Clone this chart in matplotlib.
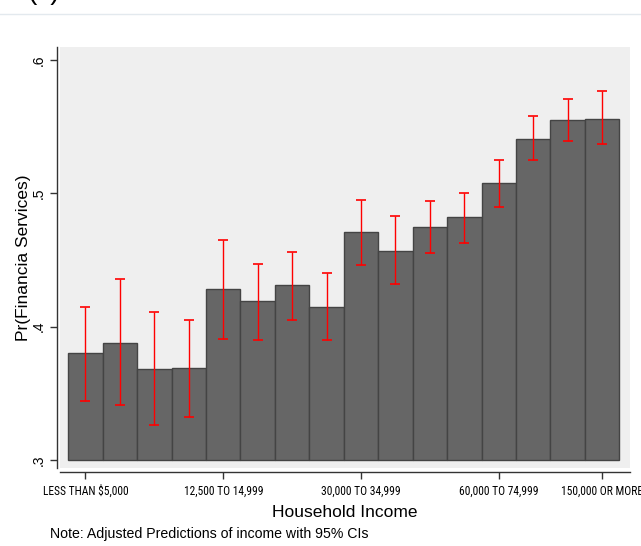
import numpy as np
import matplotlib
matplotlib.use("Agg")
import matplotlib.pyplot as plt
from matplotlib import font_manager

# Adjusted predictions by household income bracket, with 95% CIs
income_levels = [
    "LESS THAN $5,000", "5,000 TO 7,499", "7,500 TO 9,999", "10,000 TO 12,499",
    "12,500 TO 14,999", "15,000 TO 19,999", "20,000 TO 24,999", "25,000 TO 29,999",
    "30,000 TO 34,999", "35,000 TO 39,999", "40,000 TO 49,999", "50,000 TO 59,999",
    "60,000 TO 74,999", "75,000 TO 99,999", "100,000 TO 149,999", "150,000 OR MORE",
]
pred = [0.380, 0.388, 0.368, 0.369, 0.428, 0.419, 0.431, 0.415,
        0.471, 0.457, 0.475, 0.482, 0.508, 0.541, 0.555, 0.556]
ci_low = [0.344, 0.341, 0.326, 0.332, 0.391, 0.390, 0.405, 0.390,
          0.446, 0.432, 0.455, 0.463, 0.490, 0.525, 0.539, 0.537]
ci_high = [0.415, 0.436, 0.411, 0.405, 0.465, 0.447, 0.456, 0.440,
           0.495, 0.483, 0.494, 0.500, 0.525, 0.558, 0.571, 0.577]
shown_ticks = [1, 5, 9, 13, 16]
y_ticks = [0.3, 0.4, 0.5, 0.6]
base = 0.3

plt.rcParams['font.family'] = ['Liberation Sans', 'DejaVu Sans']


def find_narrow_font():
    # prefer a narrow/condensed regular face for the crowded income labels
    fonts = font_manager.fontManager.ttflist
    wanted = ['Liberation Sans Narrow', 'Roboto Condensed', 'Open Sans Condensed',
              'Noto Sans', 'DejaVu Sans', 'Open Sans', 'Roboto']
    for fam in wanted:
        for f in fonts:
            fname = f.fname.lower()
            condensed = (str(f.stretch) in ('condensed', 'semi-condensed', 'extra-condensed')
                         or 'narrow' in fname or 'condensed' in fname)
            if f.name == fam and condensed and f.weight in (400, 'normal', 'regular') \
                    and f.style == 'normal' and 'bold' not in fname and 'semi' not in fname \
                    and 'extra' not in fname and 'light' not in fname:
                return font_manager.FontProperties(fname=f.fname), True
    return font_manager.FontProperties(family='Liberation Sans'), False


tick_font, is_narrow = find_narrow_font()
tick_font.set_size(8.3 if is_narrow else 5.2)

fig = plt.figure(figsize=(6.41, 5.46), dpi=100)
ax = fig.add_axes([60 / 641, 1 - 468 / 546, 570 / 641, 421 / 546])
ax.set_facecolor('#efefef')

# axis lines sit slightly outside the shaded plot region
# (set_position resets the ticks, so do this before styling labels)
for side in ['top', 'right']:
    ax.spines[side].set_visible(False)
ax.spines['left'].set_position(('outward', 2))
ax.spines['bottom'].set_position(('outward', 3))
for side in ['left', 'bottom']:
    ax.spines[side].set_color('#333333')
    ax.spines[side].set_linewidth(1.0)

x = np.arange(1, len(pred) + 1)
heights = np.array(pred) - base
ax.bar(x, heights, width=1.0, bottom=base, color='#666666',
       edgecolor='#444444', linewidth=1.0, zorder=2)
yerr = [np.array(pred) - np.array(ci_low), np.array(ci_high) - np.array(pred)]
ax.errorbar(x, pred, yerr=yerr, fmt='none', ecolor='red', elinewidth=1.0,
            capsize=3.5, capthick=1.2, zorder=3)

ax.set_xlim(0.26, 16.81)
ax.set_ylim(0.294, 0.6098)

ax.set_xticks(shown_ticks)
ax.set_xticklabels([income_levels[i - 1] for i in shown_ticks],
                   fontproperties=tick_font)
ax.set_yticks(y_ticks)
ax.set_yticklabels([f"{v:.1f}".lstrip('0') for v in y_ticks], fontsize=10,
                   rotation=90, va='center')
ax.tick_params(axis='both', direction='out', length=5, width=1.0, color='#333333')
ax.tick_params(axis='x', pad=4)
ax.tick_params(axis='y', pad=3)

ax.set_ylabel('Pr(Financia Services)', fontsize=12.5, labelpad=1)
ax.set_xlabel('Household Income', fontsize=12.5)
ax.xaxis.set_label_coords(0.5, -0.088)

fig.text(50 / 641, 1 - 534 / 546, 'Note: Adjusted Predictions of income with 95% CIs',
         fontsize=10.2, va='center', ha='left')

# panel marker and separator line at the top edge
fig.text(27 / 641, 1 + 1 / 546, '(c)', fontsize=20, va='baseline', ha='left')
fig.add_artist(plt.Line2D([0, 1], [1 - 14 / 546, 1 - 14 / 546],
                          color='#e3e9ee', linewidth=1.0))

fig.savefig('out.png', dpi=100)
